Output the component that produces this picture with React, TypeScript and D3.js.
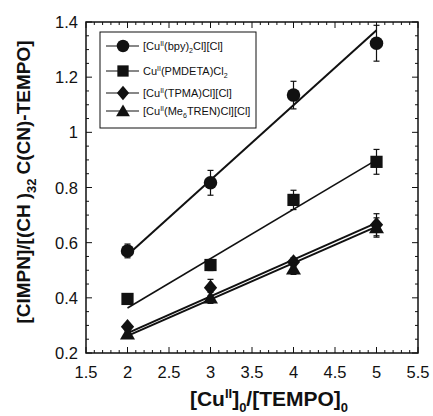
import React from 'react';
import * as d3 from 'd3';

// ratio data
const xValues = [2, 3, 4, 5];
const bpyY = [0.57, 0.817, 1.135, 1.323];
const bpyErr = [0.025, 0.045, 0.05, 0.065];
const pmdetaY = [0.396, 0.519, 0.755, 0.893];
const pmdetaErr = [0.01, 0.02, 0.035, 0.045];
const tpmaY = [0.295, 0.437, 0.53, 0.665];
const tpmaErr = [0.01, 0.03, 0.015, 0.04];
const me6Y = [0.27, 0.4, 0.505, 0.655];
const me6Err = [0.01, 0.02, 0.02, 0.035];

// linear fit end points (x = 2 and x = 5)
const fitX = [2, 5];
const bpyFit = [0.555, 1.37];
const pmdetaFit = [0.363, 0.9];
const tpmaFit = [0.272, 0.672];
const me6Fit = [0.262, 0.658];

const xTickLabels = ['1.5', '2', '2.5', '3', '3.5', '4', '4.5', '5', '5.5'];
const yTickLabels = ['0.2', '0.4', '0.6', '0.8', '1', '1.2', '1.4'];

const W = 433;
const H = 416;
const left = 86, right = 418, top = 22, bottom = 353;
const FONT = 'Liberation Sans, Arial, sans-serif';

const x = d3.scaleLinear().domain([1.5, 5.5]).range([left, right]);
const y = d3.scaleLinear().domain([0.2, 1.4]).range([bottom, top]);

function Marker({ kind, cx, cy, s }: { kind: string; cx: number; cy: number; s: number }) {
  if (kind === 'circle') return <circle cx={cx} cy={cy} r={s * 0.52} fill="#111" />;
  if (kind === 'square') return <rect x={cx - s * 0.47} y={cy - s * 0.47} width={s * 0.94} height={s * 0.94} fill="#111" />;
  if (kind === 'diamond') {
    const h = s * 0.6;
    return <path d={`M${cx},${cy - h}L${cx + h * 0.85},${cy}L${cx},${cy + h}L${cx - h * 0.85},${cy}Z`} fill="#111" />;
  }
  const h = s * 0.55;
  return <path d={`M${cx},${cy - h}L${cx + h * 1.05},${cy + h * 0.8}L${cx - h * 1.05},${cy + h * 0.8}Z`} fill="#111" />;
}

const series = [
  { kind: 'circle', ys: bpyY, err: bpyErr, fit: bpyFit, lw: 2 },
  { kind: 'square', ys: pmdetaY, err: pmdetaErr, fit: pmdetaFit, lw: 1.6 },
  { kind: 'diamond', ys: tpmaY, err: tpmaErr, fit: tpmaFit, lw: 2 },
  { kind: 'triangle', ys: me6Y, err: me6Err, fit: me6Fit, lw: 2 },
];

export default function App() {
  const line = d3.line<number>().x((_, i) => x(fitX[i])).y(d => y(d));
  const xMinor = d3.range(15, 56).map(v => v / 10);
  const yMinor = d3.range(4, 29).map(v => v / 20);

  return (
    <svg width={W} height={H} style={{ position: 'absolute', left: 0, top: 0, background: '#fff' }} fontFamily={FONT}>
      {/* ticks, inward on all four sides */}
      <g stroke="#111" strokeWidth={1}>
        {xMinor.map(v => {
          const major = Math.abs(v * 2 - Math.round(v * 2)) < 1e-6;
          const len = major ? 6 : 3;
          return (
            <g key={'x' + v}>
              <line x1={x(v)} x2={x(v)} y1={bottom} y2={bottom - len} />
              <line x1={x(v)} x2={x(v)} y1={top} y2={top + len} />
            </g>
          );
        })}
        {yMinor.map(v => {
          const major = Math.abs(v * 5 - Math.round(v * 5)) < 1e-6;
          const len = major ? 6 : 3;
          return (
            <g key={'y' + v}>
              <line x1={left} x2={left + len} y1={y(v)} y2={y(v)} />
              <line x1={right} x2={right - len} y1={y(v)} y2={y(v)} />
            </g>
          );
        })}
      </g>
      <rect x={left} y={top} width={right - left} height={bottom - top} fill="none" stroke="#111" strokeWidth={1.5} />

      {xTickLabels.map(t => (
        <text key={t} x={x(+t)} y={378} fontSize={16.5} textAnchor="middle" fill="#111">{t}</text>
      ))}
      {yTickLabels.map(t => (
        <text key={t} x={78} y={y(+t) + 6} fontSize={16.5} textAnchor="end" fill="#111">{t}</text>
      ))}

      {/* fit lines */}
      {series.map((s, i) => (
        <path key={'f' + i} d={line(s.fit) || ''} fill="none" stroke="#111" strokeWidth={s.lw} />
      ))}

      {/* error bars and markers */}
      {series.map((s, i) => (
        <g key={'s' + i}>
          {s.ys.map((v, j) => {
            const cx = x(xValues[j]);
            const y1 = y(v + s.err[j]);
            const y2 = y(v - s.err[j]);
            return (
              <g key={j} stroke="#111" strokeWidth={1.2}>
                <line x1={cx} x2={cx} y1={y1} y2={y2} />
                <line x1={cx - 3} x2={cx + 3} y1={y1} y2={y1} />
                <line x1={cx - 3} x2={cx + 3} y1={y2} y2={y2} />
              </g>
            );
          })}
          {s.ys.map((v, j) => (
            <Marker key={'m' + j} kind={s.kind} cx={x(xValues[j])} cy={y(v)} s={13} />
          ))}
        </g>
      ))}

      {/* legend */}
      <rect x={100} y={32} width={156} height={96} fill="#fff" stroke="#111" strokeWidth={1} />
      {[
        <>[Cu<tspan dy={-4} fontSize={7}>II</tspan><tspan dy={4}>(bpy)</tspan><tspan dy={3} fontSize={7}>2</tspan><tspan dy={-3}>Cl][Cl]</tspan></>,
        <>Cu<tspan dy={-4} fontSize={7}>II</tspan><tspan dy={4}>(PMDETA)Cl</tspan><tspan dy={3} fontSize={7}>2</tspan></>,
        <>[Cu<tspan dy={-4} fontSize={7}>II</tspan><tspan dy={4}>(TPMA)Cl][Cl]</tspan></>,
        <>[Cu<tspan dy={-4} fontSize={7}>II</tspan><tspan dy={4}>(Me</tspan><tspan dy={3} fontSize={7}>6</tspan><tspan dy={-3}>TREN)Cl][Cl]</tspan></>,
      ].map((label, i) => {
        const ly = [46, 71, 93, 111][i];
        return (
          <g key={'l' + i}>
            <line x1={106} x2={139} y1={ly} y2={ly} stroke="#111" strokeWidth={1.2} />
            <Marker kind={series[i].kind} cx={123} cy={ly} s={12} />
            <text x={143} y={ly + 4} fontSize={11} fill="#111">{label}</text>
          </g>
        );
      })}

      {/* axis titles */}
      <text x={(left + right) / 2 + 17} y={406} fontSize={21} fontWeight="bold" textAnchor="middle" fill="#111">
        [Cu<tspan dy={-8} fontSize={13}>II</tspan><tspan dy={8}>]</tspan><tspan dy={6} fontSize={13}>0</tspan><tspan dy={-6}>/[TEMPO]</tspan><tspan dy={6} fontSize={13}>0</tspan>
      </text>
      <text transform={`translate(30,182) rotate(-90)`} fontSize={19} fontWeight="bold" textAnchor="middle" fill="#111">
        [CIMPN]/[(CH<tspan dx={5}>)</tspan><tspan dy={6} fontSize={13}>3</tspan><tspan dy={0} fontSize={13}>2</tspan><tspan dy={-6} dx={4}>C(CN)-TEMPO]</tspan>
      </text>
    </svg>
  );
}
